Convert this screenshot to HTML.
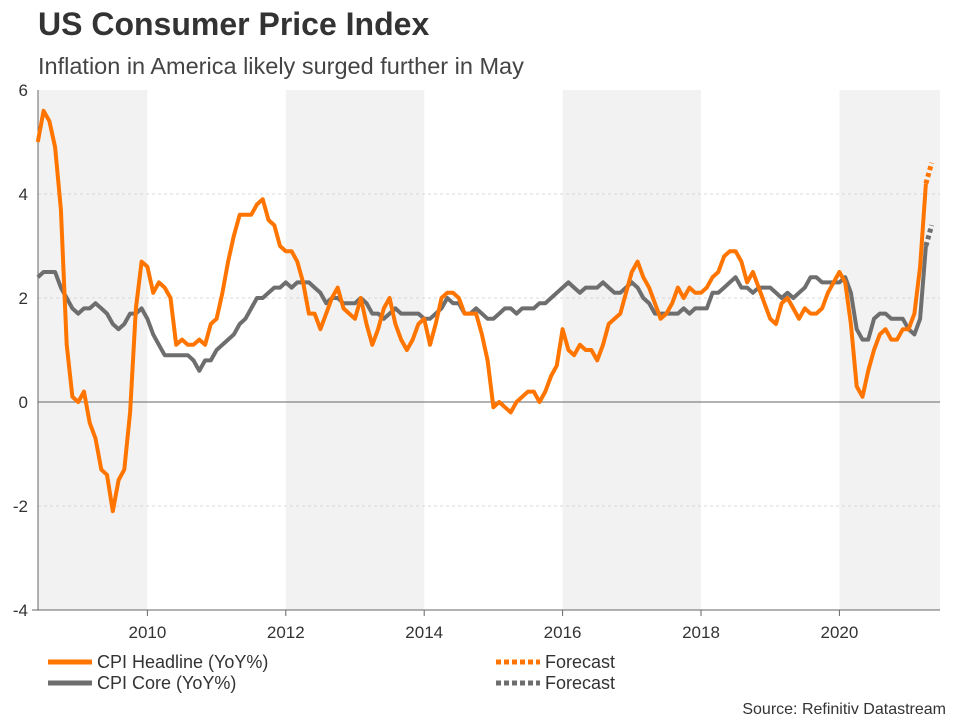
<!DOCTYPE html>
<html><head><meta charset="utf-8"><style>
body{margin:0;width:960px;height:720px;background:#fff;font-family:"Liberation Sans",sans-serif;overflow:hidden}
</style></head><body>
<svg width="960" height="720" id="svg" font-family="Liberation Sans, sans-serif">
<text x="38" y="35" font-size="32" font-weight="bold" fill="#333">US Consumer Price Index</text>
<text x="38" y="74" font-size="23.5" fill="#444">Inflation in America likely surged further in May</text>
<g id="bands"></g><g id="grid"></g><g id="axes"></g><g id="lines"></g>
<g font-size="18" fill="#333">
<line x1="48" y1="662" x2="92" y2="662" stroke="#ff7500" stroke-width="5"/>
<text x="97" y="668">CPI Headline (YoY%)</text>
<line x1="48" y1="683" x2="92" y2="683" stroke="#6e6e6e" stroke-width="5"/>
<text x="97" y="689">CPI Core (YoY%)</text>
<line x1="496" y1="662" x2="540" y2="662" stroke="#ff7500" stroke-width="5" stroke-dasharray="5,3"/>
<text x="545" y="668">Forecast</text>
<line x1="496" y1="683" x2="540" y2="683" stroke="#6e6e6e" stroke-width="5" stroke-dasharray="5,3"/>
<text x="545" y="689">Forecast</text>
</g>
<text x="946" y="714" font-size="16" fill="#333" text-anchor="end">Source: Refinitiv Datastream</text>
</svg>
<script>
const startYear=2008+5/12;
const headline=[5.0,5.6,5.4,4.9,3.7,1.1,0.1,
0.0,0.2,-0.4,-0.7,-1.3,-1.4,-2.1,-1.5,-1.3,-0.2,1.8,2.7,
2.6,2.1,2.3,2.2,2.0,1.1,1.2,1.1,1.1,1.2,1.1,1.5,
1.6,2.1,2.7,3.2,3.6,3.6,3.6,3.8,3.9,3.5,3.4,3.0,
2.9,2.9,2.7,2.3,1.7,1.7,1.4,1.7,2.0,2.2,1.8,1.7,
1.6,2.0,1.5,1.1,1.4,1.8,2.0,1.5,1.2,1.0,1.2,1.5,
1.6,1.1,1.5,2.0,2.1,2.1,2.0,1.7,1.7,1.7,1.3,0.8,
-0.1,0.0,-0.1,-0.2,0.0,0.1,0.2,0.2,0.0,0.2,0.5,0.7,
1.4,1.0,0.9,1.1,1.0,1.0,0.8,1.1,1.5,1.6,1.7,2.1,
2.5,2.7,2.4,2.2,1.9,1.6,1.7,1.9,2.2,2.0,2.2,2.1,
2.1,2.2,2.4,2.5,2.8,2.9,2.9,2.7,2.3,2.5,2.2,1.9,
1.6,1.5,1.9,2.0,1.8,1.6,1.8,1.7,1.7,1.8,2.1,2.3,
2.5,2.3,1.5,0.3,0.1,0.6,1.0,1.3,1.4,1.2,1.2,1.4,
1.4,1.7,2.6,4.2];
const headlineForecast=[4.2,4.6];
const core=[2.4,2.5,2.5,2.5,2.2,2.0,1.8,
1.7,1.8,1.8,1.9,1.8,1.7,1.5,1.4,1.5,1.7,1.7,1.8,
1.6,1.3,1.1,0.9,0.9,0.9,0.9,0.9,0.8,0.6,0.8,0.8,
1.0,1.1,1.2,1.3,1.5,1.6,1.8,2.0,2.0,2.1,2.2,2.2,
2.3,2.2,2.3,2.3,2.3,2.2,2.1,1.9,2.0,2.0,1.9,1.9,
1.9,2.0,1.9,1.7,1.7,1.6,1.7,1.8,1.7,1.7,1.7,1.7,
1.6,1.6,1.7,1.8,2.0,1.9,1.9,1.7,1.7,1.8,1.7,1.6,
1.6,1.7,1.8,1.8,1.7,1.8,1.8,1.8,1.9,1.9,2.0,2.1,
2.2,2.3,2.2,2.1,2.2,2.2,2.2,2.3,2.2,2.1,2.1,2.2,
2.3,2.2,2.0,1.9,1.7,1.7,1.7,1.7,1.7,1.8,1.7,1.8,
1.8,1.8,2.1,2.1,2.2,2.3,2.4,2.2,2.2,2.1,2.2,2.2,
2.2,2.1,2.0,2.1,2.0,2.1,2.2,2.4,2.4,2.3,2.3,2.3,
2.3,2.4,2.1,1.4,1.2,1.2,1.6,1.7,1.7,1.6,1.6,1.6,
1.4,1.3,1.6,3.0];
const coreForecast=[3.0,3.4];
const yTicks=[6,4,2,0,-2,-4];
const xTicks=[2010,2012,2014,2016,2018,2020];
const bandStarts=[2008,2012,2016,2020];

const X0=38,X1=940,Y0=90,Y1=610;
const xs=y=>9+(y-2008)*69.2;
const ys=v=>402-v*52;
const NS="http://www.w3.org/2000/svg";
function mk(tag,parent,attrs){const e=document.createElementNS(NS,tag);for(const k in attrs)e.setAttribute(k,attrs[k]);document.getElementById(parent).appendChild(e);return e;}
bandStarts.forEach(b=>{
 const a=Math.max(X0,xs(b)),c=Math.min(X1,xs(b+2));
 const r=mk('rect','bands',{x:a,y:Y0,width:c-a,height:Y1-Y0,fill:'#f2f2f2'});
 
 
});
yTicks.forEach(t=>{
 const y=ys(t);
 if(t!==-4&&t!==6&&t!==0){const l=mk('line','grid',{x1:X0,x2:X1,y1:y,y2:y,stroke:'#d8d8d8','stroke-dasharray':'3,3'});
 
 }
 const tx=mk('text','axes',{x:28,y:y+6,'font-size':17,fill:'#333','text-anchor':'end'});
 tx.textContent=t;
 
 
});
const zl=mk('line','axes',{x1:X0,x2:X1,y1:ys(0),y2:ys(0),stroke:'#666','stroke-width':1});


const ya=mk('line','axes',{x1:X0,x2:X0,y1:Y0,y2:Y1,stroke:'#666'});


const xa=mk('line','axes',{x1:X0-6,x2:X1,y1:Y1,y2:Y1,stroke:'#666'});


xTicks.forEach(t=>{
 const x=xs(t);
 const tk=mk('line','axes',{x1:x,x2:x,y1:Y1,y2:Y1+6,stroke:'#666'});
 
 
 const tx=mk('text','axes',{x:x,y:Y1+28,'font-size':17,fill:'#333','text-anchor':'middle'});
 tx.textContent=t;
 
 
});
function path(arr,off){return arr.map((v,i)=>(i?'L':'M')+xs(startYear+(i+off)/12).toFixed(1)+','+ys(v).toFixed(1)).join(' ');}
const cf=mk('path','lines',{d:path(coreForecast,core.length-1),fill:'none',stroke:'#6e6e6e','stroke-width':5,'stroke-dasharray':'4,3'});


const hf=mk('path','lines',{d:path(headlineForecast,headline.length-1),fill:'none',stroke:'#ff7500','stroke-width':5,'stroke-dasharray':'4,3'});


const cl=mk('path','lines',{d:path(core,0),fill:'none',stroke:'#6e6e6e','stroke-width':4,'stroke-linejoin':'round'});


const hl=mk('path','lines',{d:path(headline,0),fill:'none',stroke:'#ff7500','stroke-width':4,'stroke-linejoin':'round'});


</script>
</body></html>
